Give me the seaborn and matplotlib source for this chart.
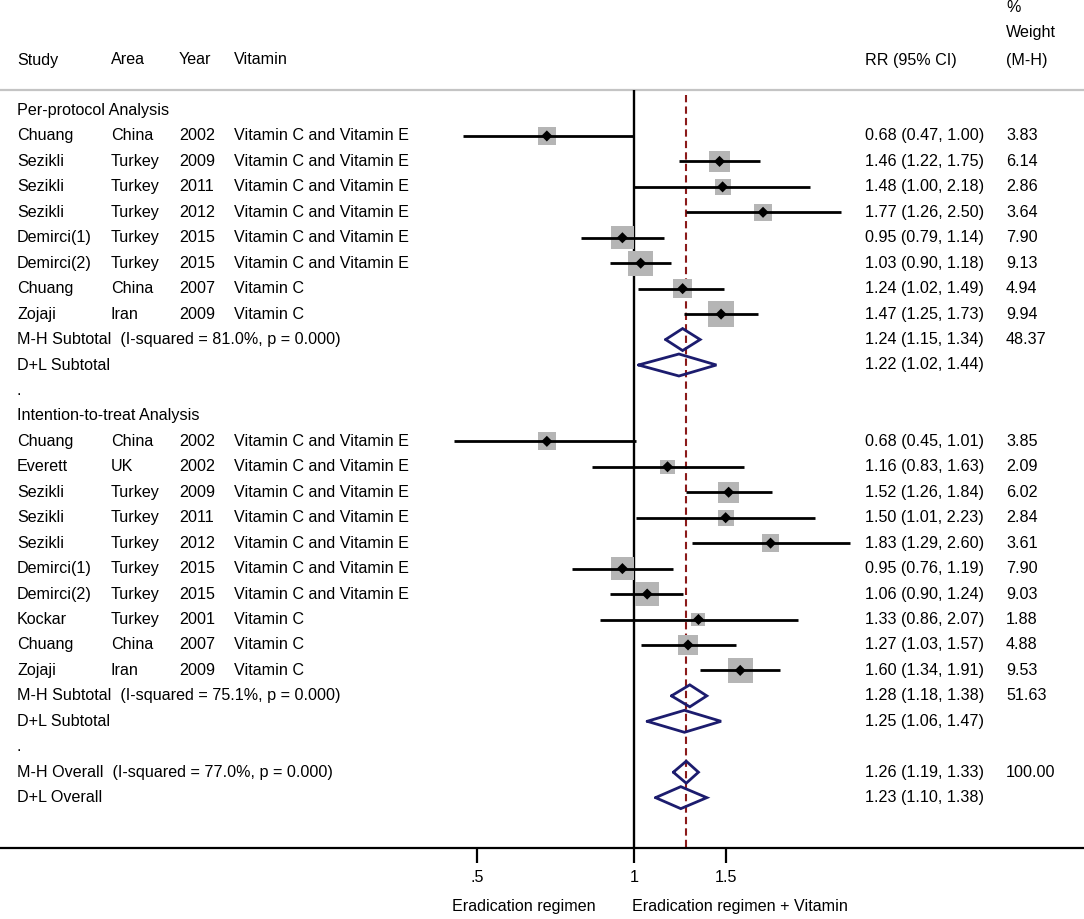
import numpy as np
import pandas as pd
import matplotlib
matplotlib.use("Agg")
import matplotlib.pyplot as plt
import matplotlib.transforms as mtransforms
import seaborn as sns

# ---------------- data ----------------
pp_study = ["Chuang", "Sezikli", "Sezikli", "Sezikli", "Demirci(1)", "Demirci(2)", "Chuang", "Zojaji"]
pp_area = ["China", "Turkey", "Turkey", "Turkey", "Turkey", "Turkey", "China", "Iran"]
pp_year = ["2002", "2009", "2011", "2012", "2015", "2015", "2007", "2009"]
pp_vit = ["Vitamin C and Vitamin E"] * 6 + ["Vitamin C"] * 2
pp_rr = [0.68, 1.46, 1.48, 1.77, 0.95, 1.03, 1.24, 1.47]
pp_lo = [0.47, 1.22, 1.00, 1.26, 0.79, 0.90, 1.02, 1.25]
pp_hi = [1.00, 1.75, 2.18, 2.50, 1.14, 1.18, 1.49, 1.73]
pp_w = [3.83, 6.14, 2.86, 3.64, 7.90, 9.13, 4.94, 9.94]

itt_study = ["Chuang", "Everett", "Sezikli", "Sezikli", "Sezikli", "Demirci(1)", "Demirci(2)", "Kockar", "Chuang", "Zojaji"]
itt_area = ["China", "UK", "Turkey", "Turkey", "Turkey", "Turkey", "Turkey", "Turkey", "China", "Iran"]
itt_year = ["2002", "2002", "2009", "2011", "2012", "2015", "2015", "2001", "2007", "2009"]
itt_vit = ["Vitamin C and Vitamin E"] * 7 + ["Vitamin C"] * 3
itt_rr = [0.68, 1.16, 1.52, 1.50, 1.83, 0.95, 1.06, 1.33, 1.27, 1.60]
itt_lo = [0.45, 0.83, 1.26, 1.01, 1.29, 0.76, 0.90, 0.86, 1.03, 1.34]
itt_hi = [1.01, 1.63, 1.84, 2.23, 2.60, 1.19, 1.24, 2.07, 1.57, 1.91]
itt_w = [3.85, 2.09, 6.02, 2.84, 3.61, 7.90, 9.03, 1.88, 4.88, 9.53]

pool_label = ["M-H Subtotal  (I-squared = 81.0%, p = 0.000)", "D+L Subtotal",
              "M-H Subtotal  (I-squared = 75.1%, p = 0.000)", "D+L Subtotal",
              "M-H Overall  (I-squared = 77.0%, p = 0.000)", "D+L Overall"]
pool_rr = [1.24, 1.22, 1.28, 1.25, 1.26, 1.23]
pool_lo = [1.15, 1.02, 1.18, 1.06, 1.19, 1.10]
pool_hi = [1.34, 1.44, 1.38, 1.47, 1.33, 1.38]
pool_w = ["48.37", "", "51.63", "", "100.00", ""]

tick_vals = [0.5, 1, 1.5]
tick_labels = [".5", "1", "1.5"]
left_label = "Eradication regimen"
right_label = "Eradication regimen + Vitamin"

# ---------------- layout ----------------
W, H = 1084, 919
K = 226.0        # pixels per ln unit
X1 = 634.0       # pixel position of RR = 1
AXIS_Y = 847.5
ROW0, STEP = 110.5, 25.45
FS = 11.6
FONT = "Liberation Sans"

sns.set_style("white")
plt.rcParams["font.family"] = [FONT, "DejaVu Sans"]
plt.rcParams["text.color"] = "black"
plt.rcParams["xtick.color"] = "black"
plt.rcParams["xtick.labelcolor"] = "black"

fig = plt.figure(figsize=(W / 100, H / 100), dpi=100)
ax = fig.add_axes([0, (H - AXIS_Y) / H, 1, AXIS_Y / H])
ax.set_xscale("log")
ax.set_xlim(np.exp(-X1 / K), np.exp((W - X1) / K))
ax.set_ylim(AXIS_Y, 0)

def row_y(i):
    return ROW0 + i * STEP

# row assignment
pp_rows = list(range(1, 1 + len(pp_study)))
itt_start = len(pp_study) + 5
itt_rows = list(range(itt_start, itt_start + len(itt_study)))
pool_rows = [len(pp_study) + 1, len(pp_study) + 2,
             itt_rows[-1] + 1, itt_rows[-1] + 2,
             itt_rows[-1] + 4, itt_rows[-1] + 5]

df = pd.DataFrame({
    "study": pp_study + itt_study,
    "area": pp_area + itt_area,
    "year": pp_year + itt_year,
    "vit": pp_vit + itt_vit,
    "rr": pp_rr + itt_rr,
    "lo": pp_lo + itt_lo,
    "hi": pp_hi + itt_hi,
    "w": pp_w + itt_w,
    "y": [row_y(r) for r in pp_rows + itt_rows],
})
side_px = 5.0 + 6.5 * np.sqrt(df["w"].to_numpy())
df["area_pt"] = (side_px * 0.72) ** 2

tr = mtransforms.blended_transform_factory(ax.transAxes, ax.transData)

def txt(xpx, y, s, **kw):
    ax.text(xpx / W, y, s, transform=tr, fontsize=FS, va="center", ha="left", color="black", **kw)

# header
hy = 60
for xpx, s in [(17, "Study"), (111, "Area"), (179, "Year"), (234, "Vitamin"), (865, "RR (95% CI)"), (1006, "(M-H)")]:
    txt(xpx, hy, s)
txt(1006, 33, "Weight")
txt(1006, 8, "%")
ax.plot([0, 1], [89.5, 89.5], transform=tr, color="#c4c4c4", lw=1.6, clip_on=False)

# vertical reference lines
ax.vlines(1, 90, AXIS_Y, color="black", lw=1.7)
ax.vlines(pool_rr[4], 95, AXIS_Y, color="#8b1a1a", lw=1.5, linestyles=(0, (3.5, 2.0)))

# section headers
txt(17, row_y(0), "Per-protocol Analysis")
txt(17, row_y(pool_rows[1] + 1), ".")
txt(17, row_y(itt_start - 1), "Intention-to-treat Analysis")
txt(17, row_y(pool_rows[3] + 1), ".")

# study rows
ax.hlines(df["y"], df["lo"], df["hi"], color="black", lw=2.0, zorder=3)
sns.scatterplot(data=df, x="rr", y="y", marker="s", s=df["area_pt"].tolist(), color="#b5b5b5",
                edgecolor="none", linewidth=0, ax=ax, zorder=2, legend=False)
sns.scatterplot(data=df, x="rr", y="y", marker="D", s=32, color="black",
                edgecolor="none", linewidth=0, ax=ax, zorder=4, legend=False)
for _, r in df.iterrows():
    txt(17, r["y"], r["study"])
    txt(111, r["y"], r["area"])
    txt(179, r["y"], r["year"])
    txt(234, r["y"], r["vit"])
    txt(865, r["y"], f"{r['rr']:.2f} ({r['lo']:.2f}, {r['hi']:.2f})")
    txt(1006, r["y"], f"{r['w']:.2f}")

# pooled diamonds
HH = 11.0
for lab, rr, lo, hi, w, rw in zip(pool_label, pool_rr, pool_lo, pool_hi, pool_w, pool_rows):
    y = row_y(rw)
    ax.plot([lo, rr, hi, rr, lo], [y, y - HH, y, y + HH, y], color="#1c1c6e", lw=2.0,
            solid_joinstyle="miter", zorder=5)
    txt(17, y, lab)
    txt(865, y, f"{rr:.2f} ({lo:.2f}, {hi:.2f})")
    if w:
        txt(1006, y, w)

# axis
for sp in ["top", "left", "right"]:
    ax.spines[sp].set_visible(False)
ax.spines["bottom"].set_linewidth(1.6)
ax.spines["bottom"].set_color("black")
ax.set_xticks(tick_vals)
ax.set_xticklabels(tick_labels, fontsize=FS, color="black")
ax.xaxis.set_minor_locator(matplotlib.ticker.NullLocator())
ax.tick_params(axis="x", length=11.0, width=1.6, color="black", labelcolor="black", pad=5, bottom=True)
ax.set_yticks([])
ax.set_xlabel("")
ax.set_ylabel("")

fig.text((X1 - 38) / W, 1 - 907 / H, left_label, ha="right", va="center", fontsize=FS, color="black")
fig.text((X1 - 2) / W, 1 - 907 / H, right_label, ha="left", va="center", fontsize=FS, color="black")

fig.savefig("out.png", dpi=100)
